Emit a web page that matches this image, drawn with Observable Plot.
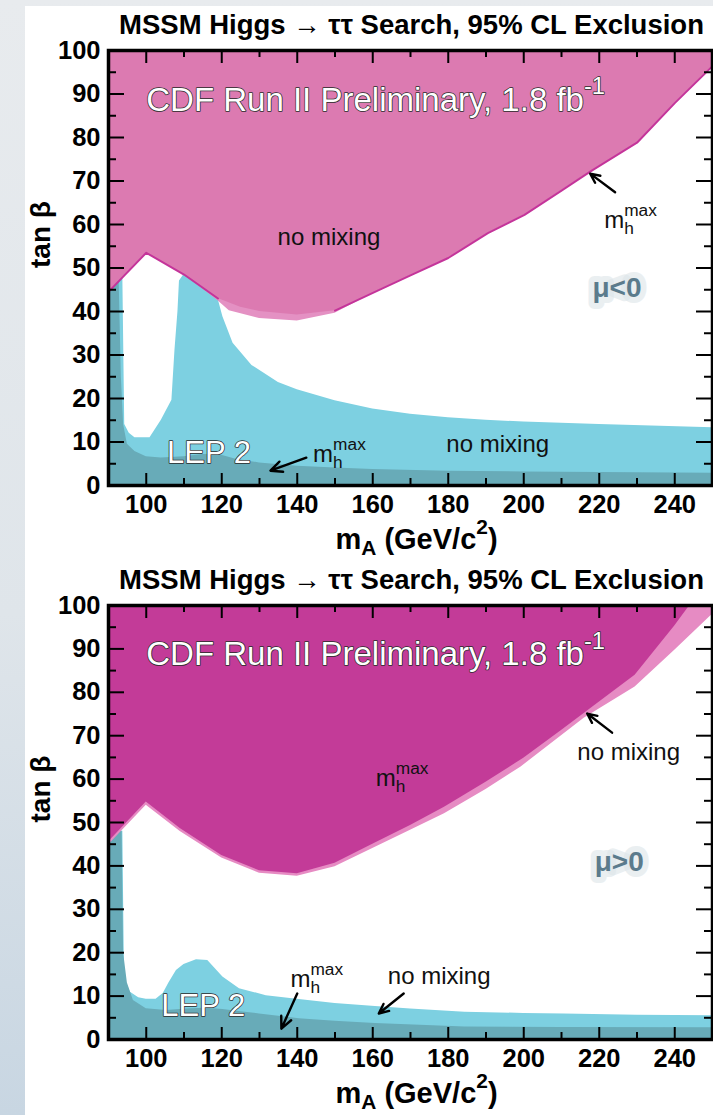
<!DOCTYPE html>
<html>
<head>
<meta charset="utf-8">
<script src="https://cdn.jsdelivr.net/npm/d3@7"></script>
<script src="https://cdn.jsdelivr.net/npm/@observablehq/plot@0.6"></script>
<style>
  html, body { margin: 0; padding: 0; }
  body {
    width: 713px; height: 1115px; overflow: hidden; position: relative;
    background: linear-gradient(180deg, #e8ebee 0%, #dfe5ea 55%, #c8d6e2 100%);
    font-family: "Liberation Sans", Arial, Helvetica, sans-serif;
  }
  #sheet { position: absolute; left: 25px; top: 6px; right: 0; bottom: 0; background: #fff; }
  .panel { position: absolute; left: 0; }
  #upper { top: 0; }
  #lower { top: 555px; }
</style>
</head>
<body>
<div id="sheet"></div>
<div id="upper" class="panel"></div>
<div id="lower" class="panel"></div>
<script>
// ---- axes -------------------------------------------------------------
const xDomain = [90, 250];          // m_A (GeV/c^2)
const yDomain = [0, 100];           // tan beta
const xMajor = [100, 120, 140, 160, 180, 200, 220, 240];
const xMinor = [110, 130, 150, 170, 190, 210, 230];
const yLabels = [0, 10, 20, 30, 40, 50, 60, 70, 80, 90, 100];
const yMajor = [10, 20, 30, 40, 50, 60, 70, 80, 90];
const yMinor = [5, 15, 25, 35, 45, 55, 65, 75, 85, 95];

const titleText = "MSSM Higgs \u2192 \u03c4\u03c4 Search, 95% CL Exclusion";
const xLabelText = "m_{A} (GeV/c^{2})";
const yLabelText = "tan \u03b2";

// ---- mu < 0 : exclusion contours [m_A, tan beta] ----------------------
// CDF no-mixing exclusion (excluded above)
const negNoMixing = [[90,44.5],[100,53.5],[110,48.5],[119,43],[125,41],[130,40],[140,39.2],[150,40.2],[161.6,44.9],[170,48.3],[180,52.3],[190.5,58],[200.2,62.2],[210,67.8],[217.7,72.2],[230,78.8],[240,87.9],[250,96.4]];
// CDF m_h^max exclusion (excluded above)
const negMhmax = [[90,44.5],[100,53.5],[110,48.5],[119,42.5],[122,40.2],[130,38.4],[140,37.8],[150,39.6],[161.6,44.9],[170,48.3],[180,52.3],[190.5,58],[200.2,62.2],[210,67.8],[217.7,72.2],[230,78.8],[240,87.9],[250,96.4]];
// LEP 2 no-mixing exclusion (excluded below)
const negLepNoMixing = [[90,48],[93.8,48],[94.3,14],[95.5,12],[97,11],[101,11],[104,15],[106.8,19.6],[107.6,31],[108.4,40],[108.8,47],[110,48.5],[119,43],[120.3,38.8],[123,32.7],[128,27.6],[135,23.7],[140,22],[150,19.5],[160,17.6],[170,16.4],[180,15.6],[190,15],[200,14.6],[220,14],[250,13.3]];
// LEP 2 m_h^max exclusion (excluded below)
const negLepMhmax = [[90,48],[92.8,48],[93.4,25],[94,14],[95,9.5],[97,7.8],[100,6.6],[104,6.3],[110,6.6],[115,7.1],[119,7.2],[124,6],[130,5.2],[140,4.4],[150,4],[160,3.7],[180,3.3],[200,3.1],[250,2.8]];

// ---- mu > 0 -------------------------------------------------------------
const posNoMixing = [[90,44.8],[100,54],[109,47.9],[120,41.8],[130,38.3],[140,37.6],[150,39.8],[160,44],[170,48.2],[179,52],[190,57.6],[199.3,62.8],[216,74],[229.5,81.2],[240,89.7],[250,98]];
const posMhmax = [[90,45.5],[100,54.7],[109,48.6],[120,42.4],[130,38.9],[140,38.2],[150,40.6],[160,45],[170,49.3],[179,53.5],[190,59.3],[200,64.8],[210,71.2],[216,75.1],[229.5,83.9],[240,95.3],[244,100],[250,100]];
const posLepNoMixing = [[90,48],[93.8,48],[94.2,17],[94.5,13.6],[95.8,10.9],[98,9.6],[100,9.3],[102.6,9.3],[104.5,10.6],[106,13],[108,15.9],[110,17.3],[113.3,18.4],[116.3,18.2],[118,16.6],[120.3,14.4],[124.7,11.7],[131.8,10.1],[140.5,9.2],[150,8.3],[160.7,7.6],[170,7],[184.4,6.3],[200,6],[210.7,5.9],[230,5.6],[250,5.5]];
const posLepMhmax = [[90,48],[93.6,48],[94,20],[95,13],[96.6,9],[100,7.1],[105.4,6.7],[111.6,7.1],[116,7.2],[120.3,6.9],[125,6.4],[130,5.9],[140.5,4.8],[150,4.2],[160.7,3.7],[184.4,2.9],[210,2.75],[250,2.7]];

// ---- annotations (data coordinates) -----------------------------------
const negBanner = [{m: 100, tb: 86.2, text: "CDF Run II Preliminary, 1.8 fb^{-1}"}];
const negLep = [{m: 105.5, tb: 5.1, text: "LEP 2"}];
const negNotes = [
  {m: 134.8, tb: 55.4, text: "no mixing"},
  {m: 221.3, tb: 59.1, text: "m_{h}^{max}"},
  {m: 144.2, tb: 5.3, text: "m_{h}^{max}"},
  {m: 179.5, tb: 7.8, text: "no mixing"}
];
const negSign = [{m: 224.7, tb: 45.3, text: "\u03bc<0"}];
const negArrows = [
  {m1: 224.2, tb1: 67.4, m2: 217.6, tb2: 71.7},
  {m1: 142.4, tb1: 6.4, m2: 132.9, tb2: 3.4}
];

const posBanner = [{m: 100, tb: 86.2, text: "CDF Run II Preliminary, 1.8 fb^{-1}"}];
const posLep = [{m: 104, tb: 5.3, text: "LEP 2"}];
const posNotes = [
  {m: 160.8, tb: 58.3, text: "m_{h}^{max}"},
  {m: 214.2, tb: 64.5, text: "no mixing"},
  {m: 138.2, tb: 12, text: "m_{h}^{max}"},
  {m: 164, tb: 12.9, text: "no mixing"}
];
const posSign = [{m: 225.3, tb: 40.8, text: "\u03bc>0"}];
const posArrows = [
  {m1: 223.4, tb1: 70.7, m2: 216.8, tb2: 75.1},
  {m1: 140, tb1: 10.6, m2: 135.8, tb2: 2.5},
  {m1: 168.2, tb1: 10.6, m2: 161.6, tb2: 6}
];

// ---- colours -----------------------------------------------------------
const CYAN = "#7dd0e1";
const TEAL = "#68abb8";
const FONT = "'Liberation Sans', Arial, Helvetica, sans-serif";

const px = d => d[0];
const py = d => d[1];

function panel(cfg) {
  const width = 713, marginLeft = 108, marginRight = 1;
  const frameW = width - marginLeft - marginRight;
  const frameH = cfg.height - cfg.marginTop - cfg.marginBottom;
  const marks = [
    // lower exclusions (LEP 2)
    Plot.areaY(cfg.lepNoMixing, {x: px, y: py, fill: CYAN}),
    Plot.areaY(cfg.lepMhmax, {x: px, y: py, fill: TEAL}),
    // upper exclusions (CDF)
    Plot.areaY(cfg.backRegion, {x: px, y1: py, y2: 100, fill: cfg.backFill}),
    Plot.areaY(cfg.frontRegion, {x: px, y1: py, y2: 100, fill: cfg.frontFill})
  ];
  if (cfg.edge) {
    for (const seg of cfg.edge) marks.push(Plot.line(seg, {x: px, y: py, stroke: "#c4349a", strokeWidth: 2}));
  }
  marks.push(
    // tick marks on all four sides, pointing inward
    Plot.tickX(xMajor, {x: d => d, insetTop: frameH - 12, stroke: "#000", strokeWidth: 2}),
    Plot.tickX(xMinor, {x: d => d, insetTop: frameH - 7, stroke: "#000", strokeWidth: 2}),
    Plot.tickX(xMajor, {x: d => d, insetBottom: frameH - 13, stroke: "#000", strokeWidth: 2}),
    Plot.tickX(xMinor, {x: d => d, insetBottom: frameH - 7, stroke: "#000", strokeWidth: 2}),
    Plot.tickY(yMajor, {y: d => d, insetRight: frameW - 16, stroke: "#000", strokeWidth: 2}),
    Plot.tickY(yMinor, {y: d => d, insetRight: frameW - 8, stroke: "#000", strokeWidth: 2}),
    Plot.tickY(yMajor, {y: d => d, insetLeft: frameW - 16, stroke: "#000", strokeWidth: 2}),
    Plot.tickY(yMinor, {y: d => d, insetLeft: frameW - 8, stroke: "#000", strokeWidth: 2}),
    Plot.frame({stroke: "#000", strokeWidth: 3.5}),
    Plot.axisX({ticks: xMajor, tickSize: 0, tickPadding: 9, label: null, fontSize: 25.5, fontWeight: "bold"}),
    Plot.axisY({ticks: yLabels, tickSize: 0, tickPadding: 8, label: null, fontSize: 25.5, fontWeight: "bold"}),
    Plot.text([xLabelText], {frameAnchor: "bottom", dx: 6, dy: 63, lineAnchor: "bottom", fontSize: 29, fontWeight: "bold"}),
    Plot.text([yLabelText], {frameAnchor: "left", dx: -67, rotate: -90, fontSize: 28, fontWeight: "bold"}),
    Plot.text([titleText], {frameAnchor: "top", dx: 1, dy: -36, fontSize: 27.5, fontWeight: "bold"}),
    // annotations
    Plot.text(cfg.banner, {x: "m", y: "tb", text: "text", textAnchor: "start", lineAnchor: "bottom", fontSize: 33, fontWeight: "normal", fill: "#fff", stroke: "#2a2a2a", strokeWidth: 1.5}),
    Plot.text(cfg.lep, {x: "m", y: "tb", text: "text", textAnchor: "start", lineAnchor: "bottom", fontSize: 31, fontWeight: "normal", fill: "#fff", stroke: "#2a2a2a", strokeWidth: 1.5}),
    Plot.text(cfg.notes, {x: "m", y: "tb", text: "text", textAnchor: "start", lineAnchor: "bottom", fontSize: 24, fontWeight: "normal", fill: "#111"}),
    Plot.text(cfg.sign, {x: "m", y: "tb", text: "text", fontSize: 28, fontWeight: "bold", fill: "#5b7b8c", stroke: "#dde5e9", strokeWidth: 12, strokeOpacity: 0.6, strokeLinejoin: "round", paintOrder: "stroke"}),
    Plot.arrow(cfg.arrows, {x1: "m1", y1: "tb1", x2: "m2", y2: "tb2", stroke: "#000", strokeWidth: 2.4, headLength: 10, headAngle: 50})
  );
  return Plot.plot({
    width, height: cfg.height,
    marginLeft, marginRight, marginTop: cfg.marginTop, marginBottom: cfg.marginBottom,
    x: {domain: xDomain, label: null},
    y: {domain: yDomain, label: null},
    style: {background: "transparent", fontFamily: FONT, color: "#000", overflow: "visible"},
    marks
  });
}

// Turn "a_{b}^{c}" markup into subscript / superscript tspans;
// a superscript right after a subscript is stacked above it.
function richText(root) {
  const NS = "http://www.w3.org/2000/svg";
  for (const t of root.querySelectorAll("text")) {
    const s = t.textContent;
    if (!/[_^]\{/.test(s)) continue;
    const fs = parseFloat(getComputedStyle(t).fontSize);
    t.textContent = "";
    const re = /([_^])\{([^}]*)\}|([^_^]+)/g;
    let m, cur = 0, lastSub = null;
    while ((m = re.exec(s))) {
      const span = document.createElementNS(NS, "tspan");
      let target = 0;
      if (m[3] !== undefined) {
        span.textContent = m[3];
        lastSub = null;
      } else {
        span.textContent = m[2];
        span.setAttribute("font-size", (fs * 0.72).toFixed(1));
        target = m[1] === "^" ? -fs * 0.5 : fs * 0.22;
        if (m[1] === "^" && lastSub) span.setAttribute("dx", (-lastSub.getComputedTextLength()).toFixed(1));
      }
      if (target !== cur) span.setAttribute("dy", (target - cur).toFixed(1));
      cur = target;
      t.appendChild(span);
      if (m[1] === "_") lastSub = span;
    }
  }
}

const upper = panel({
  height: 555, marginTop: 50, marginBottom: 70,
  lepNoMixing: negLepNoMixing, lepMhmax: negLepMhmax,
  backRegion: negMhmax, backFill: "#e491c3",
  frontRegion: negNoMixing, frontFill: "#dc7ab1",
  edge: [negNoMixing.filter(d => d[0] <= 119), negNoMixing.filter(d => d[0] >= 150)],
  banner: negBanner, lep: negLep, notes: negNotes, sign: negSign, arrows: negArrows
});
const lower = panel({
  height: 560, marginTop: 50, marginBottom: 76,
  lepNoMixing: posLepNoMixing, lepMhmax: posLepMhmax,
  backRegion: posNoMixing, backFill: "#e68bc3",
  frontRegion: posMhmax, frontFill: "#c33b98",
  edge: null,
  banner: posBanner, lep: posLep, notes: posNotes, sign: posSign, arrows: posArrows
});
document.getElementById("upper").appendChild(upper);
document.getElementById("lower").appendChild(lower);
richText(upper);
richText(lower);
</script>
</body>
</html>
